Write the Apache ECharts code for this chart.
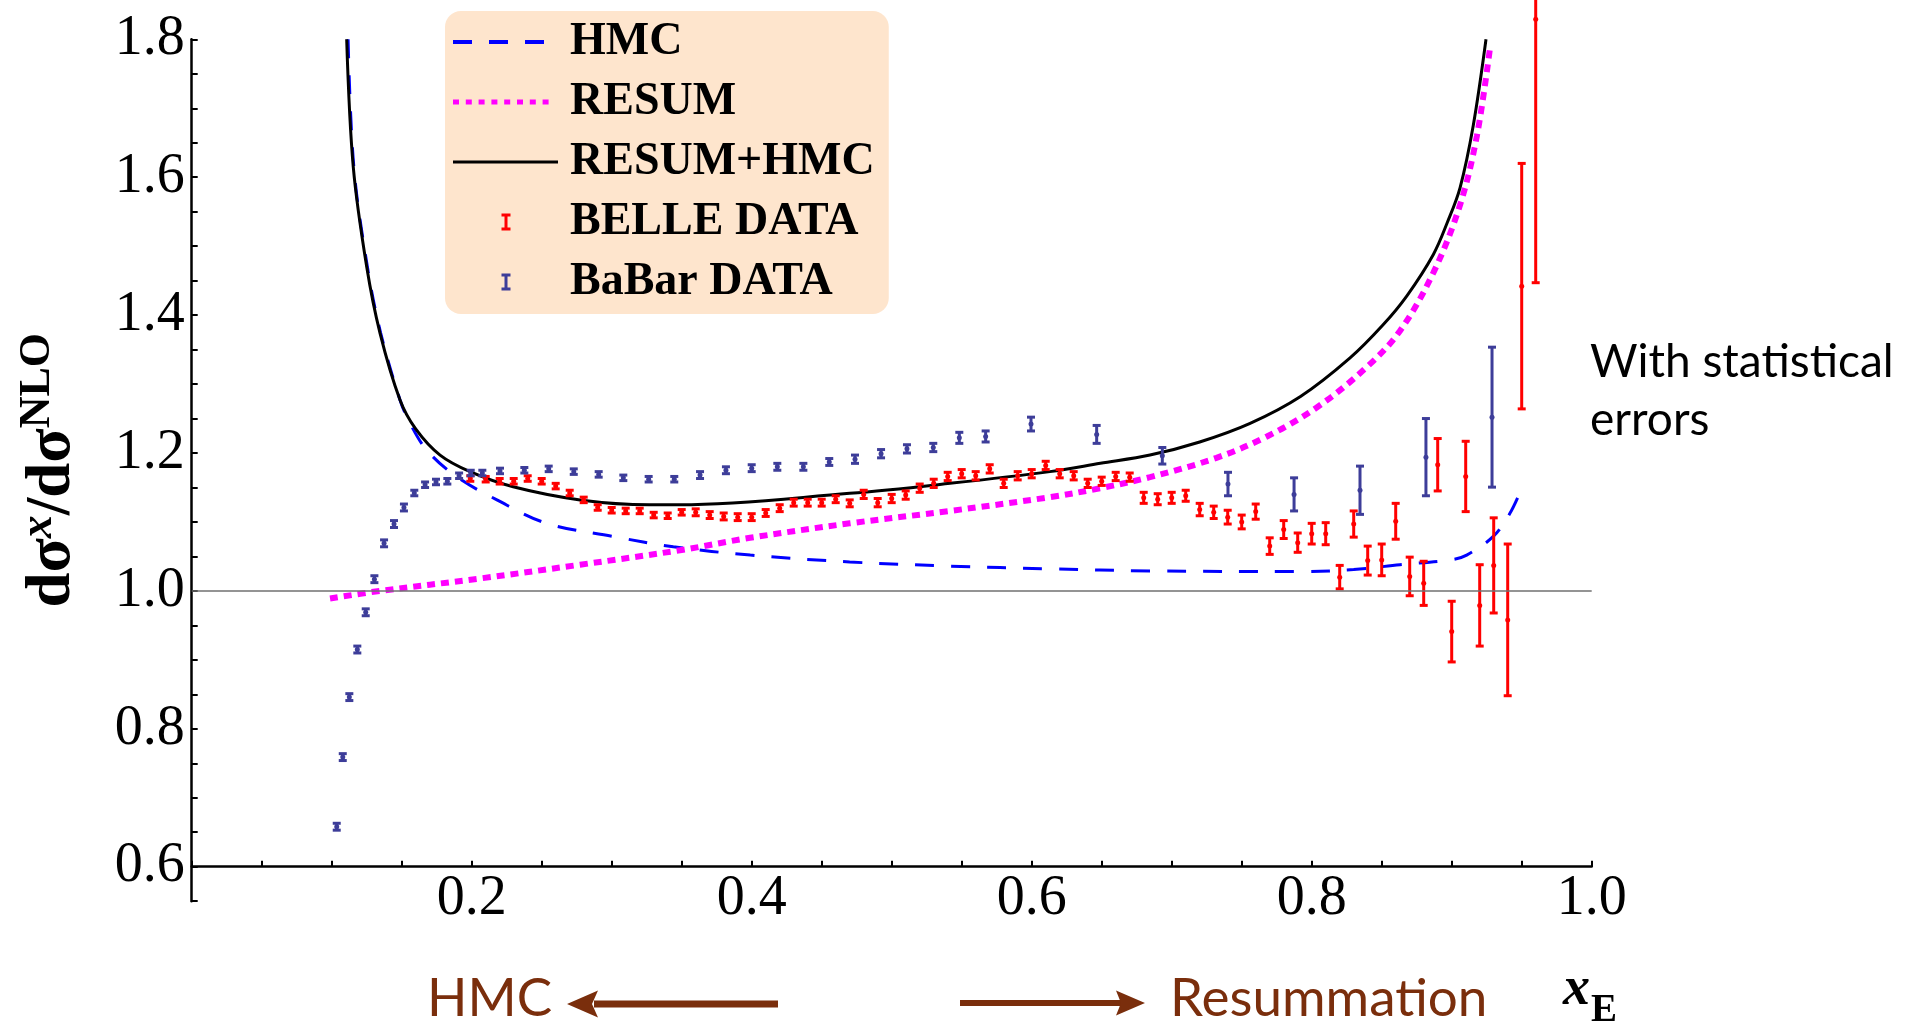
<!DOCTYPE html>
<html>
<head>
<meta charset="utf-8">
<script src="https://cdn.jsdelivr.net/npm/echarts@6/dist/echarts.min.js"></script>
<style>
  html, body { margin: 0; padding: 0; background: #fff; }
  #chart { width: 1908px; height: 1026px; }
</style>
</head>
<body>
<div id="chart"></div>
<script>
// ---- theory curves: [xE, ratio] ----
const hmcCurve = [
  [0.1117, 1.80], [0.1158, 1.615], [0.1255, 1.47], [0.135, 1.374], [0.1488, 1.277],
  [0.156, 1.243], [0.168, 1.204], [0.189, 1.166], [0.218, 1.132], [0.2536, 1.098],
  [0.301, 1.079], [0.344, 1.064], [0.399, 1.052], [0.47, 1.042], [0.5416, 1.036],
  [0.613, 1.032], [0.6845, 1.029], [0.792, 1.028], [0.83, 1.031], [0.863, 1.038],
  [0.899, 1.045], [0.9107, 1.052], [0.9297, 1.079], [0.9416, 1.1125], [0.9488, 1.143]
];
const resumCurve = [
  [0.0988, 0.989], [0.1345, 1.000], [0.2059, 1.018], [0.2774, 1.038], [0.3488, 1.059],
  [0.3988, 1.077], [0.47, 1.098], [0.5416, 1.116], [0.613, 1.136], [0.649, 1.149],
  [0.6845, 1.165], [0.732, 1.193], [0.768, 1.224], [0.8036, 1.266], [0.839, 1.324],
  [0.863, 1.377], [0.887, 1.462], [0.906, 1.560], [0.918, 1.660], [0.9274, 1.788]
];
const resumHmcCurve = [
  [0.1107, 1.80], [0.1154, 1.615], [0.125, 1.47], [0.1345, 1.374], [0.1488, 1.277],
  [0.16, 1.235], [0.1774, 1.197], [0.1988, 1.173], [0.2296, 1.151], [0.2774, 1.132],
  [0.327, 1.125], [0.3488, 1.125], [0.47, 1.1415], [0.5416, 1.156], [0.613, 1.173],
  [0.649, 1.185], [0.6845, 1.197], [0.72, 1.216], [0.756, 1.243], [0.792, 1.282],
  [0.8274, 1.338], [0.851, 1.386], [0.868, 1.428], [0.8869, 1.488], [0.897, 1.535],
  [0.906, 1.585], [0.9154, 1.675], [0.9245, 1.80]
];

// ---- BELLE measurements ----
const belleX = [0.199, 0.21, 0.22, 0.23, 0.24, 0.25, 0.26, 0.27, 0.28, 0.29, 0.30, 0.31, 0.32,
  0.33, 0.34, 0.35, 0.36, 0.37, 0.38, 0.39, 0.40, 0.41, 0.42, 0.43, 0.44, 0.45, 0.46, 0.47,
  0.48, 0.49, 0.50, 0.51, 0.52, 0.53, 0.54, 0.55, 0.56, 0.57, 0.58, 0.59, 0.60, 0.61, 0.62,
  0.63, 0.64, 0.65, 0.66, 0.67, 0.68, 0.69, 0.70, 0.71, 0.72, 0.73, 0.74, 0.75, 0.76, 0.77,
  0.78, 0.79, 0.80, 0.81, 0.82, 0.83, 0.84, 0.85, 0.86, 0.87, 0.88, 0.89, 0.90, 0.91, 0.92,
  0.93, 0.94, 0.95, 0.96];
const belleY = [1.163, 1.162, 1.159, 1.159, 1.163, 1.159, 1.152, 1.142, 1.132, 1.121, 1.117, 1.116, 1.116,
  1.110, 1.109, 1.114, 1.114, 1.110, 1.108, 1.107, 1.107, 1.113, 1.120, 1.128, 1.128, 1.128, 1.133, 1.127,
  1.140, 1.128, 1.134, 1.139, 1.149, 1.156, 1.166, 1.170, 1.167, 1.177, 1.156, 1.167, 1.170, 1.182, 1.170,
  1.167, 1.156, 1.159, 1.166, 1.165, 1.135, 1.133, 1.135, 1.138, 1.118, 1.114, 1.107, 1.100, 1.115, 1.065,
  1.089, 1.070, 1.083, 1.083, 1.020, 1.097, 1.044, 1.045, 1.101, 1.021, 1.011, 1.183, 0.941, 1.166, 0.979,
  1.037, 0.958, 1.442, 1.829];
const belleErr = [0.004, 0.004, 0.004, 0.004, 0.004, 0.004, 0.004, 0.004, 0.004, 0.004, 0.004, 0.004, 0.004,
  0.004, 0.004, 0.004, 0.005, 0.005, 0.005, 0.005, 0.005, 0.005, 0.005, 0.005, 0.005, 0.005, 0.005, 0.005,
  0.006, 0.006, 0.006, 0.006, 0.006, 0.006, 0.006, 0.006, 0.006, 0.006, 0.006, 0.006, 0.006, 0.006, 0.006,
  0.006, 0.006, 0.006, 0.006, 0.006, 0.008, 0.008, 0.008, 0.008, 0.009, 0.009, 0.010, 0.010, 0.011, 0.012,
  0.013, 0.014, 0.015, 0.016, 0.017, 0.019, 0.021, 0.023, 0.026, 0.028, 0.032, 0.038, 0.044, 0.051, 0.059,
  0.069, 0.110, 0.178, 0.382];

// ---- BaBar measurements ----
const babarX = [0.1036, 0.1079, 0.1126, 0.1183, 0.1243, 0.1305, 0.1374, 0.1445, 0.1516,
  0.159, 0.1667, 0.1745, 0.1826, 0.191, 0.1993, 0.2076, 0.2202, 0.2376, 0.255, 0.2729, 0.2907,
  0.3083, 0.3264, 0.3447, 0.3631, 0.3816, 0.40, 0.4183, 0.4369, 0.4554, 0.4738, 0.4924, 0.5109,
  0.5297, 0.5483, 0.5671, 0.5995, 0.6464, 0.6933, 0.7402, 0.7874, 0.8345, 0.8816, 0.9288];
const babarY = [0.658, 0.759, 0.846, 0.915, 0.969, 1.017, 1.069, 1.097, 1.121,
  1.142, 1.154, 1.158, 1.159, 1.167, 1.171, 1.171, 1.174, 1.175, 1.177, 1.173, 1.169,
  1.164, 1.162, 1.162, 1.168, 1.175, 1.178, 1.180, 1.180, 1.187, 1.191, 1.199, 1.206,
  1.208, 1.222, 1.224, 1.242, 1.227, 1.196, 1.155, 1.140, 1.146, 1.194, 1.252];
const babarErr = [0.005, 0.005, 0.005, 0.005, 0.005, 0.005, 0.005, 0.005, 0.005,
  0.004, 0.004, 0.004, 0.004, 0.004, 0.004, 0.004, 0.004, 0.004, 0.004, 0.004, 0.004,
  0.004, 0.004, 0.004, 0.005, 0.005, 0.005, 0.005, 0.005, 0.005, 0.006, 0.006, 0.006,
  0.006, 0.008, 0.008, 0.010, 0.013, 0.012, 0.017, 0.024, 0.035, 0.056, 0.1015];

// ---- axis labels ----
const xTickLabels = [0.2, 0.4, 0.6, 0.8, 1.0];
const yTickLabels = [0.6, 0.8, 1.0, 1.2, 1.4, 1.6, 1.8];
const seriesNames = ['HMC', 'RESUM', 'RESUM+HMC', 'BELLE DATA', 'BaBar DATA'];

const BLUE = '#0000ff', MAGENTA = '#ff00ff', RED = '#ff0000', NAVY = '#3d3d99', BROWN = '#7a2e0c';
const SERIF = '"Liberation Serif", "Times New Roman", serif';
const SANS = 'Lato, "Open Sans", sans-serif';

function zip3(xs, ys, es) { return xs.map((x, i) => [x, ys[i], es[i]]); }

function isLabelled(v, list) { return list.some(t => Math.abs(t - v) < 1e-6); }

// vertical error bar with caps and a centre dot
function errorBar(color) {
  return function (params, api) {
    const x = api.value(0), y = api.value(1), e = api.value(2);
    const c = api.coord([x, y]);
    const hi = api.coord([x, y + e])[1];
    const lo = api.coord([x, y - e])[1];
    const st = { stroke: color, lineWidth: 3 };
    const cap = 4;
    return {
      type: 'group',
      children: [
        { type: 'line', shape: { x1: c[0], y1: hi, x2: c[0], y2: lo }, style: st },
        { type: 'line', shape: { x1: c[0] - cap, y1: hi, x2: c[0] + cap, y2: hi }, style: st },
        { type: 'line', shape: { x1: c[0] - cap, y1: lo, x2: c[0] + cap, y2: lo }, style: st },
        { type: 'circle', shape: { cx: c[0], cy: c[1], r: 2.5 }, style: { fill: color } }
      ]
    };
  };
}

// legend glyphs
const iconDash = 'path://M0,0h19v4h-19z M36,0h19v4h-19z M72,0h19v4h-19z M112,0L112,4';
const iconDots = 'path://M0,0h6v5h-6z M12.8,0h6v5h-6z M25.6,0h6v5h-6z M38.4,0h6v5h-6z M51.2,0h6v5h-6z M64,0h6v5h-6z M76.8,0h6v5h-6z M89.6,0h6v5h-6z M112,0L112,5';
const iconSolid = 'path://M0,0h105v3h-105z M112,0L112,3';
const iconBar = 'path://M0,0h9v3h-3v11h3v3h-9v-3h3v-11h-3z M15,0L15,17';

const chart = echarts.init(document.getElementById('chart'), null, { renderer: 'canvas' });

chart.setOption({
  animation: false,
  backgroundColor: '#ffffff',
  grid: { left: 191.7, right: 316.3, top: 39.3, bottom: 124.8, containLabel: false },
  legend: {
    orient: 'vertical',
    left: 445, top: 11,
    align: 'left',
    itemWidth: 112, itemHeight: 17, itemGap: 14,
    padding: [8, 14, 9, 8],
    backgroundColor: '#fee5cd',
    borderRadius: 16,
    selectedMode: false,
    symbolKeepAspect: true,
    textStyle: { fontFamily: SERIF, fontWeight: 'bold', fontSize: 46, lineHeight: 46, color: '#000' },
    data: [
      { name: seriesNames[0], icon: iconDash, itemStyle: { color: BLUE, borderWidth: 0 } },
      { name: seriesNames[1], icon: iconDots, itemStyle: { color: MAGENTA, borderWidth: 0 } },
      { name: seriesNames[2], icon: iconSolid, itemStyle: { color: '#000', borderWidth: 0 } },
      { name: seriesNames[3], icon: iconBar, itemStyle: { color: RED, borderWidth: 0 } },
      { name: seriesNames[4], icon: iconBar, itemStyle: { color: NAVY, borderWidth: 0 } }
    ]
  },
  xAxis: {
    type: 'value', min: 0, max: 1, interval: 0.05,
    offset: -34.5,
    axisLine: { onZero: false, lineStyle: { color: '#000', width: 2.5 } },
    axisTick: { inside: true, length: 6, lineStyle: { color: '#000', width: 2 } },
    splitLine: { show: false },
    axisLabel: {
      margin: 5, fontFamily: SERIF, fontSize: 56, color: '#000',
      formatter: v => (v > 0.01 && isLabelled(v, xTickLabels)) ? v.toFixed(1) : ''
    }
  },
  yAxis: {
    type: 'value', min: 0.55, max: 1.8, interval: 0.05,
    axisLine: { show: true, onZero: false, lineStyle: { color: '#000', width: 2.5 } },
    axisTick: { show: true, inside: true, length: 6, lineStyle: { color: '#000', width: 2 } },
    splitLine: { show: false },
    axisLabel: {
      margin: 7, fontFamily: SERIF, fontSize: 56, color: '#000',
      formatter: v => isLabelled(v, yTickLabels) ? v.toFixed(1) : ''
    },
    name: '{m|dσ}{sx|x}{m|/dσ}{sn|NLO}',
    nameLocation: 'middle',
    nameRotate: 90,
    nameGap: 102,
    nameTextStyle: {
      rich: {
        m: { fontFamily: SERIF, fontWeight: 'bold', fontSize: 63, lineHeight: 74, color: '#000' },
        sx: { fontFamily: SERIF, fontWeight: 'bold', fontStyle: 'italic', fontSize: 46, lineHeight: 40, verticalAlign: 'top', color: '#000' },
        sn: { fontFamily: SERIF, fontWeight: 'bold', fontSize: 44, lineHeight: 40, verticalAlign: 'top', color: '#000' }
      }
    }
  },
  series: [
    {
      name: seriesNames[0], type: 'line', data: hmcCurve, symbol: 'none',
      smooth: 0.35, z: 3,
      lineStyle: { color: BLUE, width: 3, type: [19, 17] },
      itemStyle: { color: BLUE },
      markLine: {
        silent: true, symbol: ['none', 'none'], label: { show: false },
        lineStyle: { color: '#707070', width: 1.6, type: 'solid' },
        data: [{ yAxis: 1.0 }]
      }
    },
    {
      name: seriesNames[1], type: 'line', data: resumCurve, symbol: 'none',
      smooth: 0.35, z: 3,
      lineStyle: { color: MAGENTA, width: 6, type: [8, 6] },
      itemStyle: { color: MAGENTA }
    },
    {
      name: seriesNames[2], type: 'line', data: resumHmcCurve, symbol: 'none',
      smooth: 0.35, z: 3,
      lineStyle: { color: '#000', width: 3, type: 'solid' },
      itemStyle: { color: '#000' }
    },
    {
      name: seriesNames[3], type: 'custom', clip: false, z: 4,
      data: zip3(belleX, belleY, belleErr),
      encode: { x: 0, y: 1 },
      itemStyle: { color: RED },
      renderItem: errorBar(RED)
    },
    {
      name: seriesNames[4], type: 'custom', clip: false, z: 4,
      data: zip3(babarX, babarY, babarErr),
      encode: { x: 0, y: 1 },
      itemStyle: { color: NAVY },
      renderItem: errorBar(NAVY)
    }
  ],
  graphic: [
    {
      type: 'text', x: 1590, y: 333,
      style: { text: 'With statistical\nerrors', font: '46px ' + SANS, lineHeight: 58, fill: '#000', align: 'left', verticalAlign: 'top' }
    },
    {
      type: 'text', x: 427, y: 998.6,
      style: { text: 'HMC', font: '53px ' + SANS, fill: BROWN, align: 'left', verticalAlign: 'middle' }
    },
    { type: 'line', shape: { x1: 778, y1: 1004, x2: 594, y2: 1004 }, style: { stroke: BROWN, lineWidth: 7 } },
    { type: 'polygon', shape: { points: [[567, 1004], [598, 990.5], [592, 1004], [598, 1017.5]] }, style: { fill: BROWN } },
    { type: 'line', shape: { x1: 960, y1: 1003, x2: 1122, y2: 1003 }, style: { stroke: BROWN, lineWidth: 6 } },
    { type: 'polygon', shape: { points: [[1145, 1003], [1116, 990.5], [1121, 1003], [1116, 1015.5]] }, style: { fill: BROWN } },
    {
      type: 'text', x: 1170, y: 998.6,
      style: { text: 'Resummation', font: '53px ' + SANS, fill: BROWN, align: 'left', verticalAlign: 'middle' }
    },
    {
      type: 'text', x: 1563, y: 990,
      style: { text: 'x', font: 'italic bold 54px ' + SERIF, fill: '#000', align: 'left', verticalAlign: 'middle' }
    },
    {
      type: 'text', x: 1591, y: 1011,
      style: { text: 'E', font: 'bold 39px ' + SERIF, fill: '#000', align: 'left', verticalAlign: 'middle' }
    }
  ]
});
</script>
</body>
</html>
